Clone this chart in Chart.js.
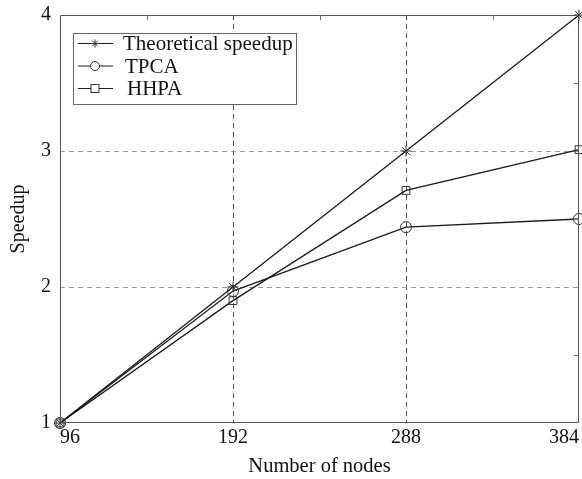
<!DOCTYPE html>
<html>
<head>
<meta charset="utf-8">
<script src="https://cdn.jsdelivr.net/npm/chart.js@4/dist/chart.umd.min.js"></script>
<style>
html,body{margin:0;padding:0;background:#fff;}
#wrap{width:582px;height:479px;}
</style>
</head>
<body>
<div id="wrap"><canvas id="c" width="582" height="479"></canvas></div>
<script>
const nodes = [96, 192, 288, 384];
const theoretical = [1, 2, 3, 4];
const tpca = [1, 1.97, 2.44, 2.5];
const hhpa = [1, 1.9, 2.71, 3.01];
const xTicks = [96, 192, 288, 384];
const yTicks = [1, 2, 3, 4];
const xMinor = [144, 240, 336];
const yMinor = [1.5, 2.5, 3.5];

const FONT = "'Liberation Serif', 'Times New Roman', serif";
const LINE = '#1a1a1a';

function pts(vals){ return nodes.map((x,i)=>({x:x,y:vals[i]})); }

const boxPlugin = {
  id:'box',
  afterDatasetsDraw(chart){
    const {ctx, chartArea:a, scales} = chart;
    ctx.save();
    ctx.strokeStyle = '#555';
    ctx.lineWidth = 1;
    ctx.beginPath();
    ctx.rect(a.left+0.5, a.top+0.5, a.right-a.left-1, a.bottom-a.top-1);
    ctx.stroke();
    ctx.strokeStyle = '#777';
    ctx.beginPath();
    xMinor.forEach(v=>{
      const px = Math.round(scales.x.getPixelForValue(v))+0.5;
      ctx.moveTo(px, a.top); ctx.lineTo(px, a.top+5);
    });
    yMinor.forEach(v=>{
      const py = Math.round(scales.y.getPixelForValue(v))+0.5;
      ctx.moveTo(a.right, py); ctx.lineTo(a.right-5, py);
    });
    ctx.stroke();
    ctx.restore();
  },
  afterDraw(chart){
    const ctx = chart.ctx;
    const a = chart.chartArea;
    const x0 = a.left+13, y0 = a.top+18, w = 223, h = 71;
    ctx.save();
    ctx.fillStyle='#fff';
    ctx.fillRect(x0,y0,w,h);
    ctx.strokeStyle='#666';
    ctx.lineWidth=1;
    ctx.strokeRect(x0+0.5,y0+0.5,w,h);
    const rows=[y0+10.5, y0+33, y0+55.5];
    chart.data.datasets.forEach((ds,i)=>{
      const y = rows[i];
      ctx.strokeStyle = LINE;
      ctx.lineWidth = 1;
      ctx.beginPath();
      ctx.moveTo(x0+5,y); ctx.lineTo(x0+40,y);
      ctx.stroke();
      const mx = x0+22;
      ctx.lineWidth=1;
      ctx.strokeStyle='#333';
      ctx.fillStyle='#fff';
      if(ds.pointStyle==='circle'){
        ctx.beginPath(); ctx.arc(mx,y,4.5,0,Math.PI*2); ctx.fill(); ctx.stroke();
      } else if(ds.pointStyle==='rect'){
        ctx.fillRect(mx-4,y-4,8,8); ctx.strokeRect(mx-4,y-4,8,8);
      } else {
        ctx.beginPath();
        for(let k=0;k<4;k++){
          const ang=k*Math.PI/4;
          ctx.moveTo(mx-4*Math.cos(ang),y-4*Math.sin(ang));
          ctx.lineTo(mx+4*Math.cos(ang),y+4*Math.sin(ang));
        }
        ctx.stroke();
      }
      ctx.fillStyle='#111';
      ctx.font = "21px "+FONT;
      ctx.textBaseline='middle';
      ctx.textAlign='left';
      ctx.fillText(ds.label, x0+50+(i*2), y+1);
    });
    ctx.restore();
  }
};

const common = {
  borderColor: LINE, borderWidth: 1.3, pointBorderColor:'#333', pointBorderWidth:1,
  pointBackgroundColor:'rgba(255,255,255,0)', showLine:true, fill:false, tension:0, clip:false
};

new Chart(document.getElementById('c'), {
  type:'scatter',
  data:{
    datasets:[
      Object.assign({label:'Theoretical speedup', data:pts(theoretical), pointStyle:'star', pointRadius:5.5}, common),
      Object.assign({label:'TPCA', data:pts(tpca), pointStyle:'circle', pointRadius:5.5}, common),
      Object.assign({label:'HHPA', data:pts(hhpa), pointStyle:'rect', pointRadius:5.5}, common)
    ]
  },
  options:{
    responsive:false, animation:false, devicePixelRatio:1,
    layout:{autoPadding:false, padding:{left:0,right:3,top:15,bottom:0}},
    plugins:{legend:{display:false}, tooltip:{enabled:false}},
    scales:{
      x:{
        type:'linear', min:96, max:384,
        afterBuildTicks(s){ s.ticks = xTicks.map(v=>({value:v})); },
        afterFit(s){ s.height = 56; s.paddingLeft = 0; s.paddingRight = 0; },
        grid:{
          color:(c)=> (c.tick && (c.tick.value===96||c.tick.value===384)) ? 'rgba(0,0,0,0)' : '#555',
          lineWidth:1, drawTicks:false
        },
        border:{display:false, dash:[5,4]},
        ticks:{color:'#111', font:{family:FONT, size:20}, padding:3, align:'inner', maxRotation:0},
        title:{display:true, text:'Number of nodes', color:'#111', font:{family:FONT, size:20.5}, padding:{top:0,bottom:0}}
      },
      y:{
        type:'linear', min:1, max:4,
        afterBuildTicks(s){ s.ticks = yTicks.map(v=>({value:v})); },
        afterFit(s){ s.width = 60; s.paddingTop = 0; s.paddingBottom = 0; },
        grid:{
          color:(c)=> (c.tick && (c.tick.value===1||c.tick.value===4)) ? 'rgba(0,0,0,0)' : '#999',
          lineWidth:1, drawTicks:false
        },
        border:{display:false, dash:[5,4]},
        ticks:{color:'#111', font:{family:FONT, size:20}, padding:9},
        title:{display:true, text:'Speedup', color:'#111', font:{family:FONT, size:20}, padding:{top:7,bottom:0}}
      }
    }
  },
  plugins:[boxPlugin]
});
</script>
</body>
</html>
